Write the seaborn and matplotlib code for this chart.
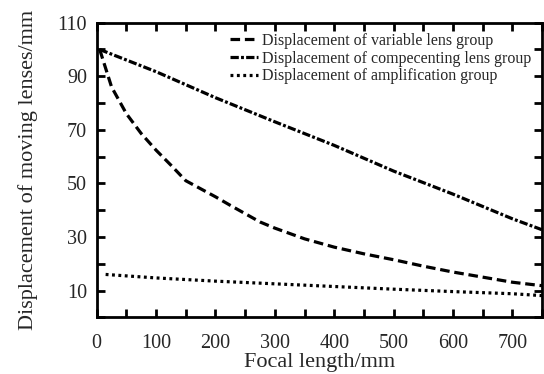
import matplotlib
matplotlib.use("Agg")
import matplotlib.pyplot as plt
import seaborn as sns
from matplotlib.ticker import MultipleLocator, FixedLocator

sns.set_style("ticks")
plt.rcParams['font.family'] = ['Liberation Serif', 'DejaVu Serif']

# data
var_x = [5, 25, 50, 75, 100, 125, 150, 175, 200, 225, 250, 275, 300, 350, 400, 450, 500, 550, 600, 650, 700, 750]
var_y = [100, 86, 76, 68.6, 62.4, 56.8, 51, 48, 45, 41.8, 38.7, 35.6, 33.3, 29.3, 26.2, 23.7, 21.5, 19.1, 16.9, 15, 13.1, 11.8]

comp_x = [5, 100, 200, 300, 400, 500, 600, 700, 750]
comp_y = [100, 91.7, 82, 73, 64.2, 54.6, 46, 36.8, 32.7]

amp_x = [15, 100, 200, 300, 400, 500, 600, 700, 750]
amp_y = [16, 14.7, 13.5, 12.5, 11.5, 10.5, 9.6, 8.8, 8.1]

labels = ["Displacement of variable lens group",
          "Displacement of compecenting lens group",
          "Displacement of amplification group"]

fig = plt.figure(figsize=(5.44, 3.74), dpi=100)
ax = fig.add_axes([0.1778, 0.1516, 0.8185, 0.7877])

sns.lineplot(x=var_x, y=var_y, ax=ax, color='black', lw=2.3, label=labels[0],
             linestyle=(0, (3.0, 1.5)))
sns.lineplot(x=comp_x, y=comp_y, ax=ax, color='black', lw=2.3, label=labels[1],
             linestyle=(0, (2.6, 0.7, 0.9, 0.7)))
sns.lineplot(x=amp_x, y=amp_y, ax=ax, color='black', lw=2.3, label=labels[2],
             linestyle=(0, (0.9, 1.1)))

ax.set_xlim(0, 750)
ax.set_ylim(0, 110)
ax.xaxis.set_major_locator(FixedLocator([0, 100, 200, 300, 400, 500, 600, 700]))
ax.xaxis.set_minor_locator(MultipleLocator(50))
ax.yaxis.set_major_locator(FixedLocator([10, 30, 50, 70, 90, 110]))
ax.yaxis.set_minor_locator(MultipleLocator(10))
ax.tick_params(which='both', direction='in', top=True, right=True, width=2, labelsize=14.5, color='black')
ax.tick_params(which='major', length=6)
ax.tick_params(axis='y', which='major', pad=7)
ax.tick_params(axis='x', which='major', pad=12)
ax.tick_params(which='minor', length=6)
for s in ax.spines.values():
    s.set_linewidth(2)
    s.set_color('black')

ax.set_xlabel("Focal length/mm", fontsize=16, labelpad=0)
ax.set_ylabel("Displacement of moving lenses/mm", fontsize=16, labelpad=14)

leg = ax.legend(loc='upper right', frameon=False, fontsize=11.5, handlelength=1.7,
                handletextpad=0.3, labelspacing=0.1, borderaxespad=0.25,
                bbox_to_anchor=(1.0, 1.0))

fig.savefig("out.png", dpi=100)
